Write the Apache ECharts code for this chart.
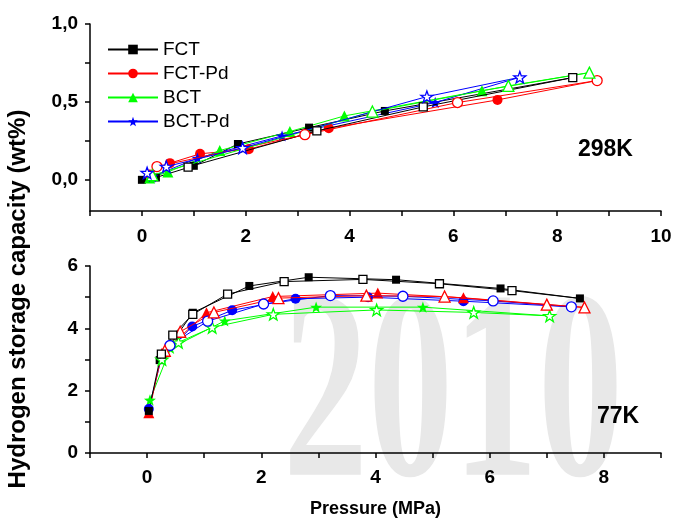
<!DOCTYPE html>
<html><head><meta charset="utf-8">
<script src="https://cdn.jsdelivr.net/npm/echarts@6/dist/echarts.min.js"></script>
<style>html,body{margin:0;padding:0;background:#fff}#c{width:675px;height:519px}</style>
</head><body><div id="c"></div>
<script>
// ---- 298 K panel (pressure MPa, capacity wt%) ----
const fct298Ads   = [[0,0],[0.27,0.015],[1.0,0.09],[1.85,0.23],[3.22,0.335],[4.68,0.442],[8.3,0.656]];
const fct298Des   = [[8.3,0.656],[5.42,0.468],[3.37,0.314],[0.89,0.082]];
const fctPd298Ads = [[0.15,0.035],[0.54,0.107],[1.12,0.167],[2.06,0.197],[3.6,0.331],[6.85,0.513],[8.77,0.637]];
const fctPd298Des = [[8.77,0.637],[6.08,0.496],[3.14,0.29],[0.29,0.085]];
const bct298Ads   = [[0.15,0.012],[0.5,0.05],[1.5,0.188],[2.85,0.31],[3.9,0.41],[6.55,0.572],[8.62,0.688]];
const bct298Des   = [[8.62,0.688],[7.06,0.603],[4.44,0.438],[0.2,0.03]];
const bctPd298Ads = [[0.2,0.02],[1.07,0.139],[2.7,0.282],[5.65,0.496],[7.28,0.658]];
const bctPd298Des = [[7.28,0.658],[5.49,0.534],[1.94,0.205],[0.47,0.085],[0.1,0.045]];
// ---- 77 K panel ----
const black77Ads = [[0.03,1.35],[0.22,2.98],[0.8,4.5],[1.79,5.36],[2.83,5.64],[4.36,5.56],[6.19,5.28],[7.58,4.96]];
const black77Des = [[7.58,4.96],[6.39,5.21],[5.12,5.43],[3.78,5.57],[2.4,5.5],[1.41,5.1],[0.8,4.45],[0.45,3.78],[0.25,3.17]];
const red77Ads   = [[0.03,1.29],[0.26,3.2],[1.04,4.5],[2.2,5.02],[4.04,5.13],[5.54,4.98],[7.66,4.67]];
const red77Des   = [[7.66,4.67],[7.0,4.76],[5.21,5.02],[3.84,5.05],[2.3,4.97],[1.17,4.51],[0.58,3.89],[0.31,3.28]];
const blue77Ads  = [[0.03,1.41],[0.25,3.05],[0.79,4.06],[1.49,4.58],[2.6,4.95],[3.87,5.0],[5.54,4.87],[7.43,4.69]];
const blue77Des  = [[7.43,4.69],[6.06,4.88],[4.48,5.03],[3.21,5.05],[2.04,4.78],[1.06,4.23],[0.4,3.45]];
const green77Ads = [[0.05,1.7],[0.41,3.36],[1.36,4.24],[2.96,4.68],[4.83,4.68],[7.05,4.4]];
const green77Des = [[7.05,4.4],[5.72,4.51],[4.02,4.59],[2.21,4.45],[1.14,4.03],[0.55,3.55],[0.26,3.0]];

const legendNames = ['FCT','FCT-Pd','BCT','BCT-Pd'];
const topTicksY = [0,0.25,0.5,0.75,1.0];
const topLabelsY = [0,0.5,1.0];

const FONT = 'Liberation Sans';
const STAR = 'path://M0,-10L2.35,-3.24L9.51,-3.09L3.8,1.24L5.88,8.09L0,4L-5.88,8.09L-3.8,1.24L-9.51,-3.09L-2.35,-3.24Z';
const SYM = {sq:['rect',8], ci:['circle',10], tr:['triangle',11], st:[STAR,12]};

function mk(name, data, gi, color, sym, open, hideIdx, z){
  const d = data.map((p,i)=> i===hideIdx ? {value:p, symbol:'none'} : {value:p});
  return {
    name, type:'line', xAxisIndex:gi, yAxisIndex:gi, data:d,
    symbol:SYM[sym][0], symbolSize:SYM[sym][1], symbolKeepAspect:true,
    lineStyle:{color, width:1}, z:z,
    itemStyle:{color: open ? '#ffffff' : color, borderColor: color, borderWidth: open ? 1.3 : 0},
    emphasis:{disabled:true}, animation:false
  };
}
const series = [
  mk('FCT', fct298Ads, 0, '#000000','sq', false, fct298Ads.length-1, 3),
  mk('FCT-Pd', fctPd298Ads, 0, '#ff0000','ci', false, fctPd298Ads.length-1, 3),
  mk('BCT', bct298Ads, 0, '#00ff00','tr', false, bct298Ads.length-1, 3),
  mk('BCT-Pd', bctPd298Ads, 0, '#0000ff','st', false, bctPd298Ads.length-1, 3),
  mk('fctD', fct298Des, 0, '#000000','sq', true, -1, 4),
  mk('fctPdD', fctPd298Des, 0, '#ff0000','ci', true, -1, 4),
  mk('bctD', bct298Des, 0, '#00ff00','tr', true, -1, 4),
  mk('bctPdD', bctPd298Des, 0, '#0000ff','st', true, -1, 4),
  mk('g77A', green77Ads, 1, '#00ff00','st', false, green77Ads.length-1, 3),
  mk('g77D', green77Des, 1, '#00ff00','st', true, -1, 4),
  mk('b77A', blue77Ads, 1, '#0000ff','ci', false, blue77Ads.length-1, 3),
  mk('b77D', blue77Des, 1, '#0000ff','ci', true, -1, 4),
  mk('r77A', red77Ads, 1, '#ff0000','tr', false, red77Ads.length-1, 3),
  mk('r77D', red77Des, 1, '#ff0000','tr', true, -1, 4),
  mk('k77A', black77Ads, 1, '#000000','sq', false, -1, 3),
  mk('k77D', black77Des, 1, '#000000','sq', true, 0, 4)
];

const axLine = {show:true, onZero:false, lineStyle:{color:'#000', width:1.5}};
const axTick = {show:true, inside:false, length:5, lineStyle:{color:'#000', width:1.5}};
const lab = {color:'#000', fontFamily:FONT, fontWeight:'bold', fontSize:19};
const evenFmt = v => (Math.round(v) % 2 === 0 ? String(Math.round(v)) : '');

const option = {
  backgroundColor:'#fff',
  animation:false,
  grid:[
    {left:90, top:24, width:571, height:187},
    {left:90, top:266, width:571, height:187}
  ],
  xAxis:[
    {type:'value', gridIndex:0, min:-1, max:10, interval:1, axisLine:axLine, axisTick:axTick,
     splitLine:{show:false}, axisLabel:Object.assign({margin:16, formatter:evenFmt, showMinLabel:true, showMaxLabel:true}, lab)},
    {type:'value', gridIndex:1, min:-1, max:9, interval:1, axisLine:axLine, axisTick:axTick,
     splitLine:{show:false}, axisLabel:Object.assign({margin:15, formatter:evenFmt}, lab),
     name:'Pressure (MPa)', nameLocation:'middle', nameGap:47,
     nameTextStyle:{color:'#000', fontFamily:FONT, fontWeight:'bold', fontSize:18}}
  ],
  yAxis:[
    {type:'value', gridIndex:0, min:-0.2, max:1.0, axisLine:axLine,
     axisTick:Object.assign({customValues:topTicksY}, axTick), splitLine:{show:false},
     axisLabel:Object.assign({margin:12, customValues:topLabelsY, formatter:v=>v.toFixed(1).replace('.',',')}, lab)},
    {type:'value', gridIndex:1, min:0, max:6, interval:1, axisLine:axLine, axisTick:axTick,
     splitLine:{show:false}, axisLabel:Object.assign({margin:12, formatter:evenFmt}, lab)}
  ],
  legend:{
    data:legendNames, orient:'vertical', left:107, top:40, padding:0, itemWidth:50, itemHeight:12, itemGap:5,
    textStyle:{color:'#000', fontFamily:FONT, fontSize:19, lineHeight:19}, selectedMode:false
  },
  graphic:[
    {type:'text', z:-10, silent:true, x:283, y:271, scaleY:1.58,
     style:{text:'2010', font:'bold 170px "Liberation Serif"', fill:'#e8e8e8', textAlign:'left', textVerticalAlign:'top'}},
    {type:'text', silent:true, x:18, y:299, rotation:Math.PI/2,
     style:{text:'Hydrogen storage capacity (wt%)', font:'bold 24px "Liberation Sans"', fill:'#000', textAlign:'center', textVerticalAlign:'middle'}},
    {type:'text', silent:true, x:578, y:150,
     style:{text:'298K', font:'bold 23px "Liberation Sans"', fill:'#000', textAlign:'left', textVerticalAlign:'middle'}},
    {type:'text', silent:true, x:597, y:417,
     style:{text:'77K', font:'bold 23px "Liberation Sans"', fill:'#000', textAlign:'left', textVerticalAlign:'middle'}}
  ],
  series
};
echarts.init(document.getElementById('c'), null, {renderer:'canvas'}).setOption(option);
</script></body></html>
